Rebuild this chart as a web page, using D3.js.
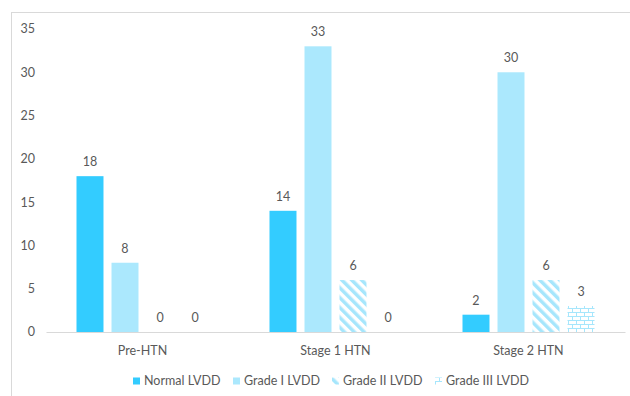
<!DOCTYPE html>
<html>
<head>
<meta charset="utf-8">
<script src="https://cdn.jsdelivr.net/npm/d3@7"></script>
<style>
  body { margin: 0; background: #fff; }
  text { font-family: Lato, "Open Sans", sans-serif; fill: #595959; }
</style>
</head>
<body>
<div id="chart"></div>
<script>
var categories = ["Pre-HTN", "Stage 1 HTN", "Stage 2 HTN"];
var seriesNames = ["Normal LVDD", "Grade I LVDD", "Grade II LVDD", "Grade III LVDD"];
var normalValues = [18, 14, 2];
var grade1Values = [8, 33, 30];
var grade2Values = [0, 6, 6];
var grade3Values = [0, 0, 3];
var yTicks = [0, 5, 10, 15, 20, 25, 30, 35];

var svgWidth = 630;
var svgHeight = 396;

var svg = d3.select("#chart")
    .append("svg")
    .attr("width", svgWidth)
    .attr("height", svgHeight);

// patterns
var defs = svg.append("defs");

var stripes = defs.append("pattern")
    .attr("id", "stripes")
    .attr("patternUnits", "userSpaceOnUse")
    .attr("width", 7)
    .attr("height", 7)
    .attr("patternTransform", "rotate(-45)");
stripes.append("rect")
    .attr("x", 0).attr("y", 0)
    .attr("width", 3.5).attr("height", 7)
    .attr("fill", "#a6e6fc");

var bricks = defs.append("pattern")
    .attr("id", "bricks")
    .attr("patternUnits", "userSpaceOnUse")
    .attr("width", 8)
    .attr("height", 8);
bricks.append("path")
    .attr("d", "M0,0.5H8M0,4.5H8M0.5,0V4.5M4.5,4.5V8")
    .attr("stroke", "#a6e6fc")
    .attr("stroke-width", 1)
    .attr("fill", "none");

var fills = ["#33ccff", "#abe8fd", "url(#stripes)", "url(#bricks)"];

// outer border
svg.append("rect")
    .attr("x", 11.5)
    .attr("y", 12.5)
    .attr("width", 640)
    .attr("height", 400)
    .attr("fill", "none")
    .attr("stroke", "#d9d9d9");

var x0 = d3.scaleBand()
    .domain(categories)
    .range([46, 625]);

var groupWidth = 132;
var x1 = d3.scaleBand()
    .domain(seriesNames)
    .range([0, groupWidth])
    .paddingInner(0.229)
    .paddingOuter(0);

var groupOffset = (x0.bandwidth() - groupWidth) / 2;

var y = d3.scaleLinear()
    .domain([0, 35])
    .range([332, 29]);

// y axis labels
svg.append("g")
    .selectAll("text")
    .data(yTicks)
    .enter()
    .append("text")
    .attr("x", 35)
    .attr("y", d => y(d))
    .attr("dy", "0.35em")
    .attr("text-anchor", "end")
    .attr("font-size", "12.5px")
    .text(d => d);

// x axis
var xAxis = svg.append("g")
    .attr("transform", "translate(0,332)")
    .call(d3.axisBottom(x0).tickSize(0).tickPadding(14));
xAxis.select(".domain").attr("stroke", "#d9d9d9");
xAxis.selectAll("text")
    .attr("font-size", "12.5px")
    .attr("font-family", "Lato, 'Open Sans', sans-serif")
    .attr("fill", "#595959");

var rows = [];
categories.forEach(function(c, i) {
    var vals = [normalValues[i], grade1Values[i], grade2Values[i], grade3Values[i]];
    vals.forEach(function(v, j) {
        rows.push({cat: c, series: seriesNames[j], value: v, idx: j});
    });
});

var bars = svg.append("g");
bars.selectAll("rect")
    .data(rows)
    .enter()
    .append("rect")
    .attr("x", d => x0(d.cat) + groupOffset + x1(d.series))
    .attr("y", d => y(d.value))
    .attr("width", x1.bandwidth())
    .attr("height", d => y(0) - y(d.value))
    .attr("fill", d => fills[d.idx]);

bars.selectAll("text")
    .data(rows)
    .enter()
    .append("text")
    .attr("x", d => x0(d.cat) + groupOffset + x1(d.series) + x1.bandwidth() / 2)
    .attr("y", d => y(d.value) - 10)
    .attr("text-anchor", "middle")
    .attr("font-size", "12.5px")
    .text(d => d.value);

// legend
var legendX = [133, 233, 332, 435];
var legend = svg.append("g")
    .selectAll("g")
    .data(seriesNames)
    .enter()
    .append("g")
    .attr("transform", (d, i) => `translate(${legendX[i]}, 381)`);

legend.append("rect")
    .attr("x", 0)
    .attr("y", -3.5)
    .attr("width", 7)
    .attr("height", 7)
    .attr("fill", (d, i) => fills[i]);

legend.append("text")
    .attr("x", 11)
    .attr("y", 0)
    .attr("dy", "0.35em")
    .attr("font-size", "12.5px")
    .text(d => d);
</script>
</body>
</html>
